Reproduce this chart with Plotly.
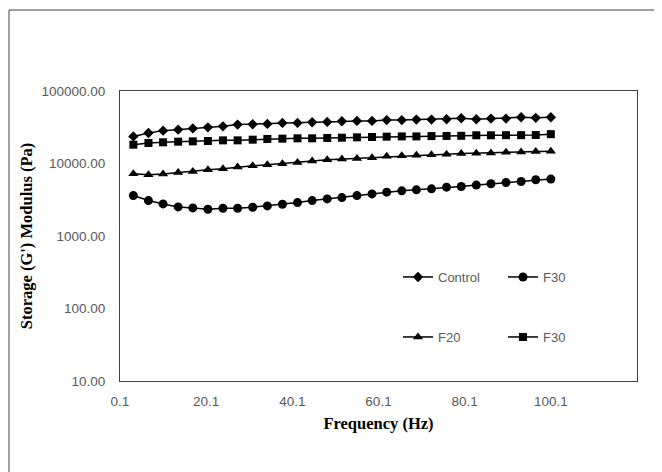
import plotly.graph_objects as go

# Frequency (Hz)
freq = [3.2, 6.7, 10.1, 13.6, 17.0, 20.5, 24.0, 27.4, 30.9, 34.3, 37.8, 41.3, 44.7, 48.2,
        51.6, 55.1, 58.6, 62.0, 65.5, 68.9, 72.4, 75.9, 79.3, 82.8, 86.2, 89.7, 93.2, 96.6, 100.1]

control = [23650, 26400, 28400, 29300, 30500, 31500, 32550, 34400, 34750, 35200, 36300, 36300,
           37000, 37500, 38200, 38700, 38700, 39700, 39700, 40350, 40350, 40750, 42050, 40750,
           41600, 41600, 43450, 42600, 43450]

f30_circle = [3610, 3080, 2770, 2520, 2440, 2340, 2415, 2415, 2495, 2600, 2745, 2890, 3080,
              3250, 3390, 3610, 3810, 4025, 4200, 4330, 4470, 4720, 4820, 5040, 5250, 5475,
              5650, 5960, 6090]

f20 = [7210, 6980, 7140, 7520, 7760, 8190, 8450, 8930, 9310, 9610, 9920, 10350, 10800, 11270,
       11520, 11750, 12020, 12540, 12800, 13000, 13200, 13450, 13700, 13850, 14000, 14250,
       14450, 14650, 14800]

f30_square = [18170, 19200, 19600, 20000, 20200, 20450, 20850, 20850, 21300, 21800, 22000,
              22250, 22250, 22500, 22700, 22950, 23200, 23450, 23650, 23650, 23900, 24000,
              24100, 24500, 24500, 24600, 24600, 24700, 25400]

x_ticks = [0.1, 20.1, 40.1, 60.1, 80.1, 100.1]
y_ticks = [10, 100, 1000, 10000, 100000]
y_tick_text = ["10.00", "100.00", "1000.00", "10000.00", "100000.00"]

series = [
    ("Control", control, "diamond", 8, "legend"),
    ("F30", f30_circle, "circle", 9, "legend"),
    ("F20", f20, "triangle-up", 9, "legend2"),
    ("F30", f30_square, "square", 8, "legend2"),
]

fig = go.Figure()
for name, vals, sym, size, leg in series:
    fig.add_trace(go.Scatter(
        x=freq, y=vals, name=name, mode="lines+markers",
        line=dict(color="black", width=1.5),
        marker=dict(symbol=sym, size=size, color="black"),
        legend=leg,
    ))

tick_font = dict(family="Liberation Sans, Arial, sans-serif", size=13.5, color="#595959")
title_font = dict(family="Liberation Serif, Times New Roman, serif", size=16.5, color="black")
leg_font = dict(family="Liberation Sans, Arial, sans-serif", size=13, color="#595959")

# the page body adds an 8px offset; layout below is expressed in page pixels
OFF = 8
W, H = 662 - OFF, 472 - OFF
L, T = 120 - OFF, 91 - OFF
R = W - (637 - OFF)
B = H - (381 - OFF)
pw, ph = W - L - R, H - T - B


def px_x(page_px):
    return (page_px - OFF - L) / pw


def px_y(page_py):
    return (H - B - (page_py - OFF)) / ph


fig.update_layout(
    width=W, height=H,
    margin=dict(l=L, r=R, t=T, b=B),
    paper_bgcolor="white", plot_bgcolor="white",
    xaxis=dict(
        range=[0.1, 120.1], tickvals=x_ticks, ticktext=[str(v) for v in x_ticks],
        showgrid=False, zeroline=False, showline=True, linecolor="#404040", linewidth=1,
        mirror=True, ticks="", tickfont=tick_font, ticklabelstandoff=8,
        title=dict(text="<b>Frequency (Hz)</b>", font=title_font, standoff=9),
    ),
    yaxis=dict(
        type="log", range=[1, 5], tickvals=y_ticks, ticktext=y_tick_text,
        showgrid=False, zeroline=False, showline=True, linecolor="#404040", linewidth=1,
        mirror=True, ticks="", tickfont=tick_font, ticklabelstandoff=11,
        title=dict(text="<b>Storage (G') Modulus (Pa)</b>", font=title_font, standoff=4),
    ),
    legend=dict(
        orientation="h", x=px_x(398), y=px_y(277), xanchor="left", yanchor="middle",
        bgcolor="rgba(0,0,0,0)", font=leg_font, entrywidth=60, entrywidthmode="pixels",
        tracegroupgap=0,
    ),
    legend2=dict(
        orientation="h", x=px_x(398), y=px_y(337), xanchor="left", yanchor="middle",
        bgcolor="rgba(0,0,0,0)", font=leg_font, entrywidth=60, entrywidthmode="pixels",
        tracegroupgap=0,
    ),
    showlegend=True,
)

# outer chart frame (left and top edges)
fig.add_shape(type="line", xref="paper", yref="paper",
              x0=px_x(9), x1=px_x(656), y0=px_y(10), y1=px_y(10),
              line=dict(color="#404040", width=1))
fig.add_shape(type="line", xref="paper", yref="paper",
              x0=px_x(9), x1=px_x(9), y0=px_y(10), y1=px_y(472),
              line=dict(color="#404040", width=1))

fig.write_html("out.html")
